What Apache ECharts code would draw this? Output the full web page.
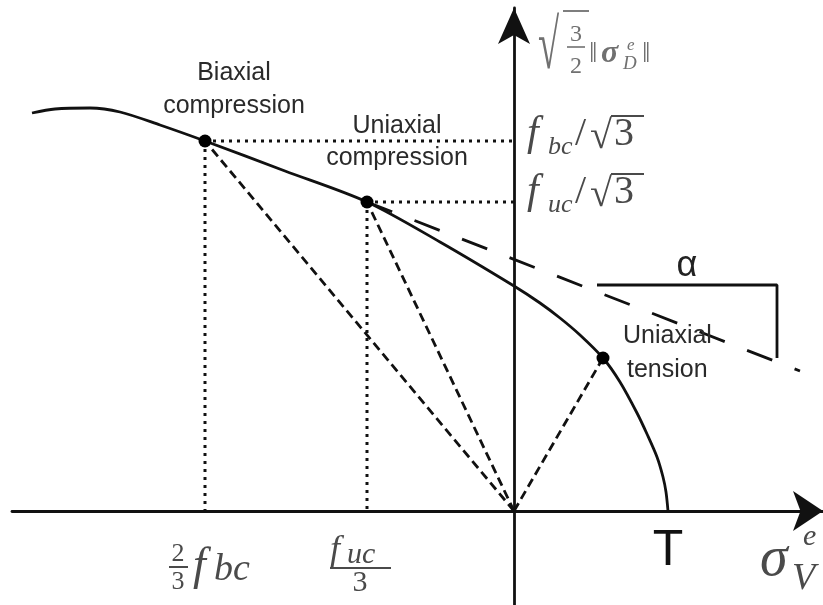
<!DOCTYPE html>
<html>
<head>
<meta charset="utf-8">
<script src="https://cdn.jsdelivr.net/npm/echarts@6/dist/echarts.min.js"></script>
<style>
  html, body { margin: 0; padding: 0; background: #fff; }
  #chart { width: 823px; height: 605px; }
</style>
</head>
<body>
<div id="chart"></div>
<script>
// Yield surface in the (volumetric stress, deviatoric stress) plane.
// Units: one unit = 100 px on both axes; origin at the axes' crossing.

// Failure curve, from the biaxial-compression side down to the tension cut-off T.
const curveX = [-4.82, -4.59, -4.24, -3.94, -3.54, -3.09, -2.29, -1.47, -0.74, 0.00, 0.26, 0.46, 0.66, 0.89, 1.06, 1.23, 1.33, 1.43, 1.49, 1.52, 1.54];
const curveY = [ 3.98,  4.02,  4.03,  3.99,  3.86,  3.70,  3.40,  3.09,  2.69, 2.25, 2.08, 1.93, 1.76, 1.53, 1.29, 0.98, 0.77, 0.54, 0.34, 0.19, 0.00];

// Characteristic stress states: biaxial compression, uniaxial compression, uniaxial tension.
const stateNames = ['Biaxial compression', 'Uniaxial compression', 'Uniaxial tension'];
const stateX = [-3.09, -1.47, 0.89];
const stateY = [ 3.70,  3.09, 1.53];

// Tangent (slope alpha) drawn from the uniaxial-compression state.
const tangentEndX = 2.86;
const tangentEndY = 1.40;

// Slope bracket marked with alpha.
const bracketX = [0.83, 2.63, 2.63];
const bracketY = [2.26, 2.26, 1.53];

const ink = '#111';
const zip = (xs, ys) => xs.map((x, i) => [x, ys[i]]);

const series = [];

// dotted projections of the two compression states onto both axes
[0, 1].forEach(i => {
  series.push({
    type: 'line', data: [[stateX[i], stateY[i]], [0, stateY[i]]],
    symbol: 'none', silent: true,
    lineStyle: { color: ink, width: 3, type: [3, 5] }
  });
  series.push({
    type: 'line', data: [[stateX[i], stateY[i]], [stateX[i], 0]],
    symbol: 'none', silent: true,
    lineStyle: { color: ink, width: 3, type: [3, 5] }
  });
});

// dashed rays from the origin to each state
stateX.forEach((x, i) => {
  series.push({
    type: 'line', data: [[0, 0], [x, stateY[i]]],
    symbol: 'none', silent: true,
    lineStyle: { color: ink, width: 2.8, type: [9, 5] }
  });
});

// long-dash tangent
series.push({
  type: 'line', data: [[stateX[1], stateY[1]], [tangentEndX, tangentEndY]],
  symbol: 'none', silent: true,
  lineStyle: { color: ink, width: 2.8, type: [27, 24] }
});

// slope bracket
series.push({
  type: 'line', data: zip(bracketX, bracketY),
  symbol: 'none', silent: true,
  lineStyle: { color: ink, width: 2.8 }
});

// failure curve
series.push({
  type: 'line', data: zip(curveX, curveY),
  smooth: 0.3, smoothMonotone: null, symbol: 'none', silent: true,
  lineStyle: { color: ink, width: 2.8 }
});

// state markers
series.push({
  type: 'scatter', data: zip(stateX, stateY),
  symbolSize: 13, itemStyle: { color: '#000', opacity: 1 }, silent: true, z: 5
});

// ---- text helpers ----
const SANS = "'Liberation Sans', Arial, sans-serif";
const SERIF = "'Liberation Serif', 'DejaVu Serif', serif";
const mathInk = '#4a4a4a';

// place text by its baseline
function txt(x, base, s, size, o) {
  o = o || {};
  const fam = o.sans ? SANS : SERIF;
  const style = (o.italic ? 'italic ' : '') + (o.bold ? 'bold ' : '');
  return {
    type: 'text', x: x, y: base - 0.32 * size, z: 10, silent: true,
    scaleX: o.sx || 1, scaleY: o.sy || 1,
    style: {
      text: s, font: style + size + 'px ' + fam,
      fill: o.color || mathInk, textAlign: o.align || 'left', verticalAlign: 'middle'
    }
  };
}
function rule(x1, x2, y, color, w) {
  return { type: 'line', z: 10, silent: true,
    shape: { x1: x1, y1: y, x2: x2, y2: y },
    style: { stroke: color || mathInk, lineWidth: w || 2 } };
}

const lab = '#2a2a2a';
const grey = '#707070';
const graphics = [
  // state annotations
  txt(234, 81, 'Biaxial', 25, { sans: true, align: 'center', color: lab }),
  txt(234, 114, 'compression', 25, { sans: true, align: 'center', color: lab }),
  txt(397, 134, 'Uniaxial', 25, { sans: true, align: 'center', color: lab }),
  txt(397, 166, 'compression', 25, { sans: true, align: 'center', color: lab }),
  txt(623, 344, 'Uniaxial', 25, { sans: true, color: lab }),
  txt(627, 378, 'tension', 25, { sans: true, color: lab }),
  txt(687, 278, 'α', 36, { sans: true, align: 'center', color: '#222' }),
  txt(668, 567, 'T', 50, { sans: true, align: 'center', color: '#111' }),

  // f_bc / sqrt(3)
  txt(527, 147, 'f', 42, { italic: true }),
  txt(548, 155, 'bc', 26, { italic: true }),
  txt(575, 147, '/', 40),
  txt(590, 150, '√', 40),
  rule(611, 644, 116),
  txt(614, 147, '3', 40),

  // f_uc / sqrt(3)
  txt(527, 205, 'f', 42, { italic: true }),
  txt(548, 213, 'uc', 26, { italic: true }),
  txt(575, 205, '/', 40),
  txt(590, 208, '√', 40),
  rule(611, 644, 174),
  txt(614, 205, '3', 40),

  // 2/3 f_bc
  txt(178, 562, '2', 26, { align: 'center' }),
  rule(169, 188, 567),
  txt(178, 590, '3', 26, { align: 'center' }),
  txt(193, 582, 'f', 46, { italic: true }),
  txt(214, 582, 'bc', 38, { italic: true }),

  // f_uc / 3
  txt(330, 562, 'f', 36, { italic: true }),
  txt(347, 565, 'uc', 30, { italic: true }),
  rule(330, 391, 568),
  txt(360, 593, '3', 30, { align: 'center' }),

  // sigma_V^e
  txt(760, 578, 'σ', 56, { italic: true }),
  txt(803, 547, 'e', 30, { italic: true }),
  txt(792, 591, 'V', 38, { italic: true }),

  // sqrt(3/2) ||sigma_D^e||
  txt(538, 72, '√', 70, { sx: 0.55, color: grey }),
  rule(563, 589, 11, grey, 1.8),
  txt(576, 42, '3', 24, { align: 'center', color: grey }),
  rule(567, 585, 47, grey, 1.6),
  txt(576, 74, '2', 24, { align: 'center', color: grey }),
  txt(589, 64, '‖', 30, { color: grey }),
  txt(601, 64, 'σ', 32, { italic: true, bold: true, color: grey }),
  txt(627, 51, 'e', 17, { italic: true, color: grey }),
  txt(623, 70, 'D', 19, { italic: true, color: grey }),
  txt(642, 64, '‖', 30, { color: grey })
];

const chart = echarts.init(document.getElementById('chart'), null, { renderer: 'canvas' });
chart.setOption({
  animation: false,
  backgroundColor: '#fff',
  grid: { left: 12, right: 0, top: 8, bottom: 0, containLabel: false },
  xAxis: {
    type: 'value', min: -5.02, max: 3.09,
    axisLine: { onZero: true, symbol: ['none', 'arrow'], symbolSize: [30, 30],
      lineStyle: { color: ink, width: 2.8 } },
    axisTick: { show: false }, axisLabel: { show: false }, splitLine: { show: false }
  },
  yAxis: {
    type: 'value', min: -0.94, max: 5.03,
    axisLine: { onZero: true, symbol: ['none', 'arrow'], symbolSize: [24, 36],
      lineStyle: { color: ink, width: 2.8 } },
    axisTick: { show: false }, axisLabel: { show: false }, splitLine: { show: false }
  },
  series: series,
  graphic: graphics
});
</script>
</body>
</html>
